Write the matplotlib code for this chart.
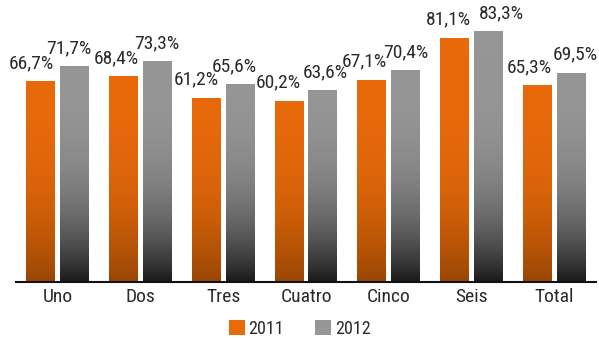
import numpy as np
import matplotlib
matplotlib.use("Agg")
import matplotlib.pyplot as plt
from matplotlib.patches import Patch
from matplotlib.transforms import offset_copy

plt.rcParams['font.family'] = ['Roboto Condensed', 'DejaVu Sans']

categories = ["Uno", "Dos", "Tres", "Cuatro", "Cinco", "Seis", "Total"]
series_names = ["2011", "2012"]
values_2011 = [66.7, 68.4, 61.2, 60.2, 67.1, 81.1, 65.3]
values_2012 = [71.7, 73.3, 65.6, 63.6, 70.4, 83.3, 69.5]

# label nudges (points) so the value labels sit as in the layout
nudge_2011 = [-6.5, -5, -7, -8, -5.5, -4.5, -6]
nudge_2012 = [-4, -0.5, -4.5, 2, 0, 9, 3]

orange_top = np.array([0xE8, 0x6A, 0x0B]) / 255
orange_bot = np.array([0x98, 0x46, 0x04]) / 255
gray_top = np.array([0x96, 0x96, 0x96]) / 255
gray_bot = np.array([0x1a, 0x1a, 0x1a]) / 255
text_color = "#2a2a2a"

fig = plt.figure(figsize=(5.99, 3.38), dpi=100)
ax = fig.add_axes([16 / 599, 56 / 338, 580 / 599, 282 / 338])

YMAX = 93.6
GRAD_SPAN = 75.0  # shading darkens towards the baseline over this range


def gradient_image(top, bot, n=400):
    y = np.linspace(0, YMAX, n)
    t = 1 - (1 - np.clip(y / GRAD_SPAN, 0, 1)) ** 3
    col = bot + (top - bot) * t[:, None]
    return col[:, None, :]


x = np.arange(len(categories))
width = 0.35
offset = 0.205

for vals, dx, top, bot, nudges in [
    (values_2011, -offset, orange_top, orange_bot, nudge_2011),
    (values_2012, offset, gray_top, gray_bot, nudge_2012),
]:
    bars = ax.bar(x + dx, vals, width, color="none", edgecolor="none")
    img = gradient_image(top, bot)
    for b, v, nd in zip(bars, vals, nudges):
        x0 = b.get_x()
        im = ax.imshow(img, extent=[x0, x0 + b.get_width(), 0, YMAX],
                       origin="lower", aspect="auto", interpolation="bilinear",
                       zorder=2)
        im.set_clip_path(b)
        tr = offset_copy(ax.transData, fig=fig, x=nd, y=6.5, units="points")
        ax.text(b.get_x() + b.get_width() / 2, v, f"{v:.1f}%".replace(".", ","),
                transform=tr, ha="center", va="bottom", fontsize=14,
                color=text_color)

ax.set_xlim(-0.5, len(categories) - 0.5)
ax.set_ylim(0, YMAX)
ax.set_xticks(x)
ax.set_xticklabels(categories, fontsize=14, color=text_color)
ax.tick_params(axis="x", length=0, pad=4)
ax.set_yticks([])
for s in ["top", "right", "left"]:
    ax.spines[s].set_visible(False)
ax.spines["bottom"].set_linewidth(1.5)
ax.spines["bottom"].set_color("#111111")
ax.patch.set_alpha(0)

handles = [Patch(facecolor=orange_top, edgecolor="none"),
           Patch(facecolor=gray_top, edgecolor="none")]
fig.legend(handles, series_names, loc="center", bbox_to_anchor=(0.5, 0.027),
           ncol=2, frameon=False, fontsize=13, handlelength=0.9,
           handleheight=0.9, handletextpad=0.2, columnspacing=1.7,
           labelcolor=text_color)

fig.savefig("out.png", dpi=100)
